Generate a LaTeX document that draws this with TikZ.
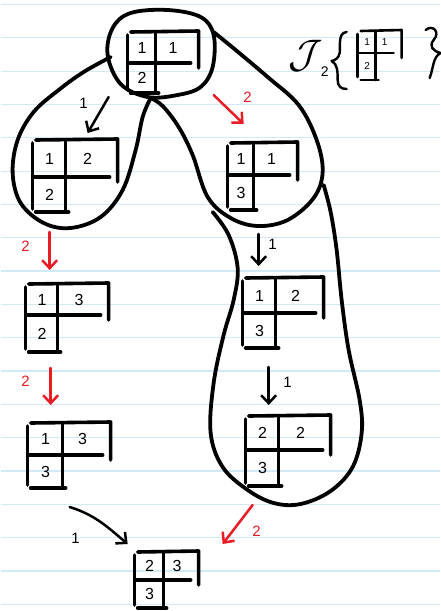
\documentclass[tikz,border=0pt]{standalone}
\usepackage{fontspec}
\setmainfont{Liberation Sans}
\usetikzlibrary{arrows.meta}
\definecolor{pen}{RGB}{232,28,36}
\definecolor{ruleblue}{RGB}{208,234,247}
\def\entsize{\fontsize{16}{16}\selectfont}
\def\labsize{\fontsize{15}{15}\selectfont}
\def\ytparse#1/#2/#3/#4/#5/#6\relax{\def\yL{#1}\def\yT{#2}\def\yC{#3}\def\yR{#4}\def\yM{#5}\def\yB{#6}}
% #1 name, #2 L/T/C/R/M/B, #3 #4 #5 entries
\newcommand\yt[5]{%
  \ytparse#2\relax
  \draw[tab] ({\yL+2},{\yT}) -- ({\yR},{\yT-1}) -- ({\yR},{\yM+5});
  \draw[tab] ({\yL},{\yM}) -- ({\yR-8},{\yM});
  \draw[tab] ({\yL-1},{\yT+3}) -- ({\yL-1},{\yB-3});
  \draw[tab] ({\yC},{\yT}) -- ({\yC},{\yB});
  \draw[tab] ({\yL+2},{\yB}) -- ({\yC+3},{\yB});
  \node[ent] (#1-a) at ({(\yL+\yC)/2},{(\yT+\yM)/2}) {#3};
  \node[ent] (#1-b) at ({(\yC+\yR)/2-4},{(\yT+\yM)/2}) {#4};
  \node[ent] (#1-c) at ({(\yL+\yC)/2},{(\yM+\yB)/2}) {#5};
}
\begin{document}
\begin{tikzpicture}[x=1pt,y=-1pt,
  tab/.style={line width=3.6pt,line cap=round,line join=round},
  blob/.style={line width=3.8pt,line cap=round,line join=round},
  ar/.style={line width=2.5pt,line cap=round,-{Straight Barb[length=8pt,width=15pt,line width=2.5pt]}},
  ent/.style={inner sep=0pt,font=\entsize},
  lab/.style={inner sep=0pt,font=\labsize}]
% paper
\fill[white] (0,0) rectangle (439,611);
\foreach \k in {0,...,18}
  \draw[ruleblue,line width=1.3pt] (0,{4.5+33.33*\k}) -- (439,{4.5+33.33*\k});
\useasboundingbox (0,0) rectangle (439,611);

% enclosing curves
\draw[blob] plot[smooth cycle, tension=0.6] coordinates {(130,13) (167,10) (200,17) (213,35) (212,67) (200,87) (177,95) (147,97) (120,84) (107,55) (112,28)};
\draw[blob] plot[smooth, tension=0.6] coordinates {(110,57) (83,72) (58,90) (33,112) (17,140) (12,173) (20,203) (43,223) (70,228) (100,217) (122,190) (135,150) (142,117) (150,98)};
\draw[blob] plot[smooth, tension=0.6] coordinates {(213,32) (235,50) (267,77) (298,105) (316,140) (322,172) (313,198) (287,220) (257,226) (230,218) (207,197) (192,155) (178,127) (162,106) (150,98)};
\draw[blob] plot[smooth, tension=0.6] coordinates {(212,212) (228,235) (237,268) (233,300) (223,335) (213,383) (210,433) (222,467) (247,490) (273,503) (300,504) (330,491) (352,467) (361,433) (359,400) (348,350) (341,300) (336,250) (330,212) (323,185)};

% tableaux
\yt{t0}{128/32/155/198/63/93}{1}{1}{2}
\yt{l1}{33/140/65/117/177/212}{1}{2}{2}
\yt{r1}{228/143/253/297/175/210}{1}{1}{3}
\yt{l2}{26/284/57/108/315/352}{1}{3}{2}
\yt{r2}{243/278/275/323/313/348}{1}{2}{3}
\yt{l3}{28/423/62/110/455/488}{1}{3}{3}
\yt{r3}{246/416/278/330/450/486}{2}{2}{3}
\yt{bt}{135/552/163/198/580/608}{2}{3}{3}

% arrows
\coordinate (a1s) at (108,97);  \coordinate (a1e) at (87,133);
\coordinate (a2s) at (213,95);  \coordinate (a2e) at (243,124);
\coordinate (a3s) at (49,232);  \coordinate (a3e) at (49,270);
\coordinate (a4s) at (50,368);  \coordinate (a4e) at (50,405);
\coordinate (a5s) at (258,234); \coordinate (a5e) at (258,266);
\coordinate (a6s) at (268,367); \coordinate (a6e) at (268,405);
\coordinate (a7s) at (69,507);  \coordinate (a7e) at (127,544);
\coordinate (a8s) at (252,505); \coordinate (a8e) at (222,544);
\draw[ar] (a1s) -- (a1e);
\draw[ar,pen] (a2s) -- (a2e);
\draw[ar,pen] (a3s) -- (a3e);
\draw[ar,pen] (a4s) -- (a4e);
\draw[ar] (a5s) -- (a5e);
\draw[ar] (a6s) -- (a6e);
\draw[ar] (a7s) .. controls (95,515) and (108,528) .. (a7e);
\draw[ar,pen] (a8s) -- (a8e);
\node[lab] (a1l) at (83,103) {1};
\node[lab,pen] (a2l) at (247,97) {2};
\node[lab,pen] (a3l) at (25,246) {2};
\node[lab,pen] (a4l) at (25,381) {2};
\node[lab] (a5l) at (272,244) {1};
\node[lab] (a6l) at (287,382) {1};
\node[lab] (a7l) at (75,538) {1};
\node[lab,pen] (a8l) at (256,531) {2};

% J_2 { tableau }
\node[inner sep=0pt,scale=1.6] (jname) at (305,56) {\fontsize{24}{24}\selectfont$\mathcal{J}$};
\node[inner sep=0pt,font=\fontsize{14}{14}\selectfont] (jsub) at (324,72) {2};
\draw[line width=2.4pt,line cap=round,line join=round] (346,32) .. controls (337,33) and (340,45) .. (339,53) .. controls (338,58) and (335,60) .. (331,61) .. controls (337,64) and (337,72) .. (337,80) .. controls (337,86) and (340,89) .. (346,89);
\begin{scope}[tab/.append style={line width=2.6pt}]
\def\entsize{\fontsize{10}{10}\selectfont}
\yt{jt}{358/31/375/401/53/80}{1}{1}{2}
\end{scope}
\draw[line width=2.4pt,line cap=round,line join=round] (425,30) .. controls (432,24) and (440,32) .. (433,40) .. controls (428,46) and (432,51) .. (440,53) .. controls (432,57) and (433,68) .. (429,78);
\end{tikzpicture}
\end{document}
